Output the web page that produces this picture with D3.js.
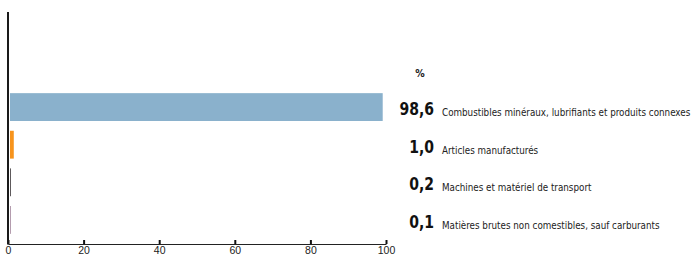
<!DOCTYPE html>
<html>
<head>
<meta charset="utf-8">
<script src="https://cdnjs.cloudflare.com/ajax/libs/d3/7.8.5/d3.min.js"></script>
<style>
  body { margin: 0; background: #fff; }
  svg { display: block; font-family: "DejaVu Sans Condensed", "DejaVu Sans", sans-serif; font-stretch: condensed; }
</style>
</head>
<body>
<div id="chart"></div>
<script>
// data
const categories = [
  "Combustibles minéraux, lubrifiants et produits connexes",
  "Articles manufacturés",
  "Machines et matériel de transport",
  "Matières brutes non comestibles, sauf carburants"
];
const values = [98.6, 1.0, 0.2, 0.1];
const valueLabels = ["98,6", "1,0", "0,2", "0,1"];
const colors = ["#8ab1cc", "#f7941d", "#5e5a5c", "#b49cae"];
const xTicks = [0, 20, 40, 60, 80, 100];

const w = 698;
const h = 259;

const svg = d3.select("#chart").append("svg")
  .attr("width", w)
  .attr("height", h);

const x = d3.scaleLinear().domain([0, 100]).range([8, 386]);
const y = d3.scaleBand().domain(categories).range([83, 244])
  .paddingInner(0.26).paddingOuter(0.27);

// bars
svg.selectAll("rect.bar")
  .data(categories)
  .enter()
  .append("rect")
  .attr("class", "bar")
  .attr("x", x(0) + 2)
  .attr("y", d => y(d))
  .attr("width", (d, i) => Math.max(1, x(values[i]) - x(0)))
  .attr("height", y.bandwidth())
  .attr("fill", (d, i) => colors[i]);

// x axis
const xAxis = d3.axisBottom(x)
  .tickValues(xTicks)
  .tickSizeInner(-4)
  .tickSizeOuter(0)
  .tickPadding(3)
  .tickFormat(d3.format("d"));

const gx = svg.append("g")
  .attr("transform", "translate(0,244)")
  .call(xAxis);
gx.select(".domain").attr("stroke", "#222").attr("stroke-width", 1.2);
gx.selectAll(".tick line").attr("stroke", "#111").attr("stroke-width", 2);
gx.selectAll(".tick text")
  .attr("font-size", 10.5)
  .attr("fill", "#222")
  .attr("font-family", "inherit");

// y axis line
svg.append("line")
  .attr("x1", x(0)).attr("x2", x(0))
  .attr("y1", 12).attr("y2", 244.5)
  .attr("stroke", "#1a1a1a")
  .attr("stroke-width", 2);

// unit
svg.append("text")
  .attr("x", 420)
  .attr("y", 77)
  .attr("text-anchor", "middle")
  .attr("font-size", 10.5)
  .attr("font-weight", "bold")
  .attr("fill", "#222")
  .text("%");

// labels, squeezed a bit to look like a narrow font
const rows = svg.selectAll("g.row")
  .data(categories)
  .enter()
  .append("g")
  .attr("class", "row")
  .attr("transform", d => `translate(0,${y(d) + y.bandwidth() / 2})`);

rows.append("text")
  .attr("transform", "translate(434,8) scale(0.89,1)")
  .attr("text-anchor", "end")
  .attr("font-size", 17.5)
  .attr("font-weight", "bold")
  .attr("fill", "#111")
  .text((d, i) => valueLabels[i]);

rows.append("text")
  .attr("transform", "translate(442,9) scale(0.93,1)")
  .attr("font-size", 10.5)
  .attr("fill", "#222")
  .text(d => d);
</script>
</body>
</html>
